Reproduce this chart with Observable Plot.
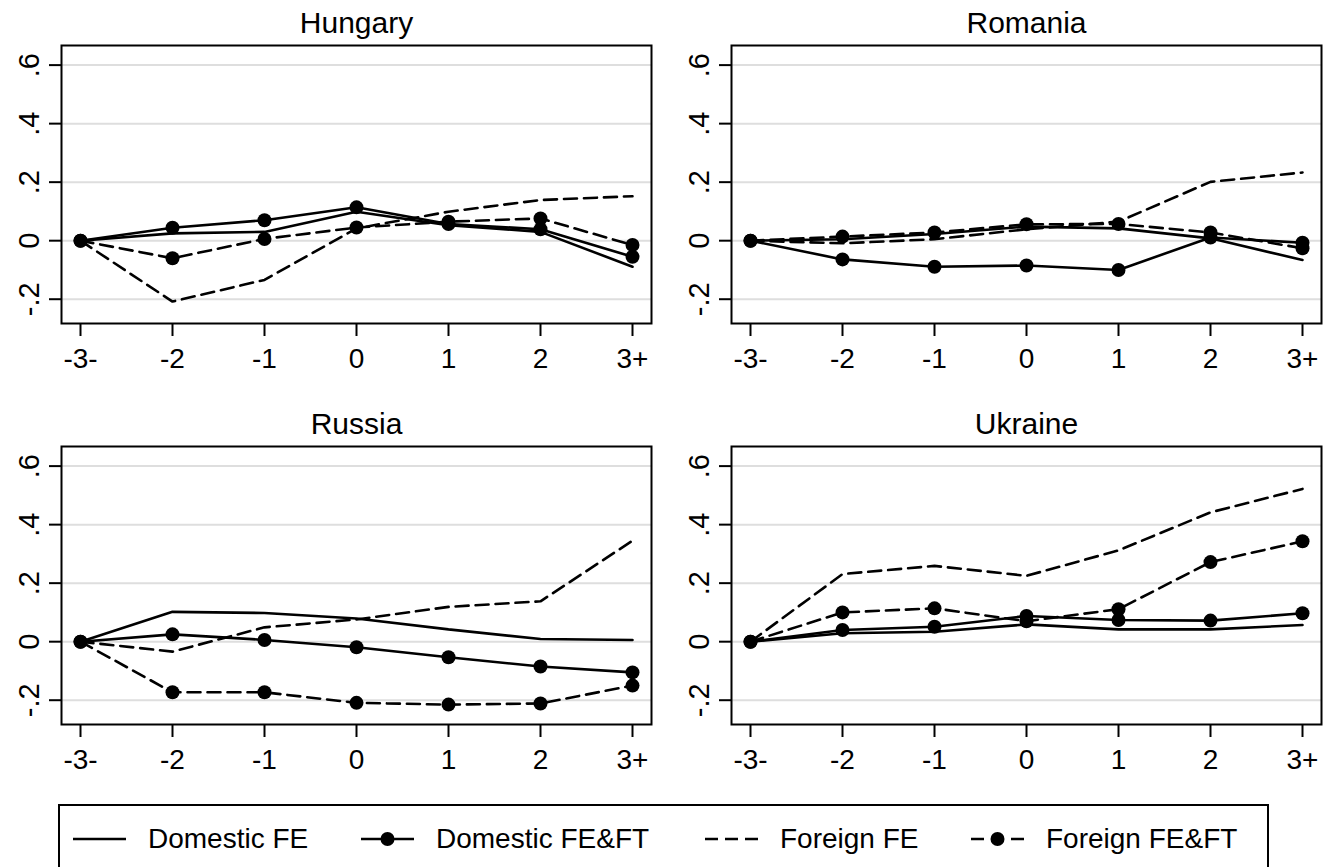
<!DOCTYPE html>
<html><head><meta charset="utf-8">
<script src="https://cdn.jsdelivr.net/npm/d3@7"></script>
<script src="https://cdn.jsdelivr.net/npm/@observablehq/plot@0.6"></script>
<style>
body{margin:0;background:#fff;font-family:"Liberation Sans",Arial,sans-serif;}
#wrap{position:relative;width:1323px;height:867px;overflow:hidden;background:#fff;}
.panel{position:absolute;}
#legend{position:absolute;left:58px;top:804px;width:1211px;height:70px;border:2px solid #000;box-sizing:border-box;}
.item{position:absolute;top:0;height:66px;display:flex;align-items:center;font-size:28px;color:#000;white-space:nowrap;}
.item svg{margin-right:21px;}
</style></head><body><div id="wrap"></div>
<script>
// ---- data ----
const periods = ["-3-", "-2", "-1", "0", "1", "2", "3+"];
const yTicks = [-0.2, 0, 0.2, 0.4, 0.6];
const yTickLabels = ["-.2", "0", ".2", ".4", ".6"];
const seriesNames = ["Domestic FE", "Domestic FE&FT", "Foreign FE", "Foreign FE&FT"];
const countries = ["Hungary", "Romania", "Russia", "Ukraine"];

const hungaryDomFE   = [0, 0.025, 0.030, 0.099, 0.053, 0.030, -0.089];
const hungaryDomFEFT = [0, 0.044, 0.070, 0.114, 0.057, 0.039, -0.055];
const hungaryForFE   = [0, -0.208, -0.134, 0.042, 0.099, 0.139, 0.152];
const hungaryForFEFT = [0, -0.060, 0.006, 0.045, 0.065, 0.076, -0.015];

const romaniaDomFE   = [0, 0.005, 0.023, 0.048, 0.042, 0.008, -0.066];
const romaniaDomFEFT = [0, -0.064, -0.089, -0.085, -0.100, 0.011, -0.007];
const romaniaForFE   = [0, -0.009, 0.005, 0.039, 0.065, 0.201, 0.233];
const romaniaForFEFT = [0, 0.014, 0.028, 0.056, 0.057, 0.028, -0.026];

const russiaDomFE    = [0, 0.102, 0.098, 0.079, 0.042, 0.009, 0.006];
const russiaDomFEFT  = [0, 0.025, 0.006, -0.019, -0.053, -0.085, -0.105];
const russiaForFE    = [0, -0.034, 0.049, 0.076, 0.119, 0.138, 0.345];
const russiaForFEFT  = [0, -0.173, -0.173, -0.209, -0.215, -0.211, -0.150];

const ukraineDomFE   = [0, 0.029, 0.034, 0.059, 0.042, 0.042, 0.057];
const ukraineDomFEFT = [0, 0.040, 0.051, 0.088, 0.074, 0.072, 0.097];
const ukraineForFE   = [0, 0.231, 0.259, 0.225, 0.312, 0.442, 0.522];
const ukraineForFEFT = [0, 0.100, 0.114, 0.070, 0.111, 0.272, 0.343];

const countrySeries = {
  Hungary: [hungaryDomFE, hungaryDomFEFT, hungaryForFE, hungaryForFEFT],
  Romania: [romaniaDomFE, romaniaDomFEFT, romaniaForFE, romaniaForFEFT],
  Russia:  [russiaDomFE, russiaDomFEFT, russiaForFE, russiaForFEFT],
  Ukraine: [ukraineDomFE, ukraineDomFEFT, ukraineForFE, ukraineForFEFT]
};

// ---- styling ----
const FONT = '"Liberation Sans", Arial, sans-serif';
const seriesStyle = {
  "Domestic FE":    {dash: null,   dots: false},
  "Domestic FE&FT": {dash: null,   dots: true},
  "Foreign FE":     {dash: "13,7", dots: false},
  "Foreign FE&FT":  {dash: "13,7", dots: true}
};
const layout = {
  Hungary: {left: 0,   top: 0,   width: 661, height: 390, mL: 61, mR: 10, mT: 45, mB: 67},
  Romania: {left: 661, top: 0,   width: 662, height: 390, mL: 70, mR: 2,  mT: 45, mB: 67},
  Russia:  {left: 0,   top: 400, width: 661, height: 390, mL: 61, mR: 10, mT: 46, mB: 66},
  Ukraine: {left: 661, top: 400, width: 662, height: 390, mL: 70, mR: 2,  mT: 46, mB: 66}
};

const wrap = document.getElementById("wrap");

function rows(country, name) {
  const vals = countrySeries[country][seriesNames.indexOf(name)];
  return periods.map((p, i) => ({period: p, value: vals[i], series: name}));
}

for (const country of countries) {
  const L = layout[country];
  const marks = [
    Plot.ruleY(yTicks, {stroke: "#dedede", strokeWidth: 2}),
    Plot.axisX({ticks: periods, tickSize: 13, tickPadding: 12, fontSize: 28, label: null, strokeWidth: 2}),
    Plot.axisY({ticks: yTicks, tickFormat: d => yTickLabels[yTicks.indexOf(d)], tickRotate: -90,
                tickSize: 12, tickPadding: 11, fontSize: 29, label: null, strokeWidth: 2})
  ];
  for (const name of seriesNames) {
    const st = seriesStyle[name];
    const data = rows(country, name);
    marks.push(Plot.line(data, {x: "period", y: "value", stroke: "#000", strokeWidth: 2.6,
      strokeDasharray: st.dash || undefined, strokeLinejoin: "miter"}));
  }
  for (const name of seriesNames) {
    const st = seriesStyle[name];
    if (st.dots) marks.push(Plot.dot(rows(country, name), {x: "period", y: "value", r: 7, fill: "#000", stroke: "none"}));
  }
  marks.push(Plot.frame({stroke: "#000", strokeWidth: 2}));
  marks.push(Plot.text([country], {frameAnchor: "top", lineAnchor: "bottom", dy: -13, fontSize: 30, fill: "#000"}));

  const fig = Plot.plot({
    width: L.width, height: L.height,
    marginLeft: L.mL, marginRight: L.mR, marginTop: L.mT, marginBottom: L.mB,
    style: {fontFamily: FONT, background: "transparent", color: "#000"},
    x: {type: "point", domain: periods, padding: 0.206, label: null, axis: null},
    y: {domain: [-0.283, 0.667], label: null, axis: null},
    marks
  });
  fig.classList.add("panel");
  fig.style.left = L.left + "px";
  fig.style.top = L.top + "px";
  wrap.appendChild(fig);
}

// ---- legend ----
const legend = document.createElement("div");
legend.id = "legend";
wrap.appendChild(legend);
const itemLeft = [13, 301, 645, 911];
seriesNames.forEach((name, i) => {
  const st = seriesStyle[name];
  const it = document.createElement("div");
  it.className = "item";
  it.style.left = itemLeft[i] + "px";
  const ns = "http://www.w3.org/2000/svg";
  const svg = document.createElementNS(ns, "svg");
  svg.setAttribute("width", 54); svg.setAttribute("height", 20);
  const ln = document.createElementNS(ns, "line");
  ln.setAttribute("x1", 0); ln.setAttribute("x2", 53); ln.setAttribute("y1", 10); ln.setAttribute("y2", 10);
  ln.setAttribute("stroke", "#000"); ln.setAttribute("stroke-width", 2.6);
  if (st.dash) ln.setAttribute("stroke-dasharray", st.dash);
  svg.appendChild(ln);
  if (st.dots) {
    const c = document.createElementNS(ns, "circle");
    c.setAttribute("cx", 26.5); c.setAttribute("cy", 10); c.setAttribute("r", 7); c.setAttribute("fill", "#000");
    svg.appendChild(c);
  }
  it.appendChild(svg);
  const tx = document.createElement("span");
  tx.textContent = name;
  it.appendChild(tx);
  legend.appendChild(it);
});
</script></body></html>
